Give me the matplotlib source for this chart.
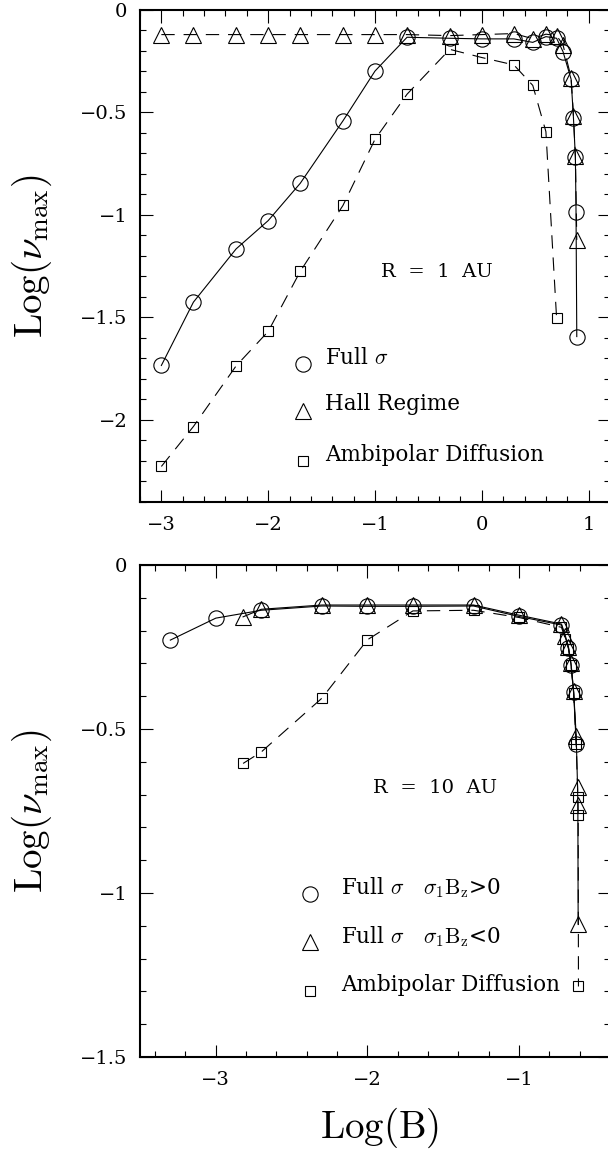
import matplotlib
matplotlib.use("Agg")
import matplotlib.pyplot as plt
from matplotlib.ticker import MultipleLocator, FuncFormatter

plt.rcParams['mathtext.fontset'] = 'cm'
plt.rcParams['font.family'] = ['DejaVu Serif']
plt.rcParams['axes.unicode_minus'] = True

# ---------------- data: R = 1 AU ----------------
logB_full_1 = [-3, -2.7, -2.3, -2, -1.7, -1.3, -1, -0.7, -0.3, 0, 0.3, 0.477, 0.6, 0.7,
               0.76, 0.836, 0.858, 0.876, 0.882, 0.889]
nu_full_1 = [-1.735, -1.426, -1.166, -1.028, -0.846, -0.541, -0.298, -0.133, -0.138, -0.141,
             -0.141, -0.158, -0.13, -0.138, -0.203, -0.338, -0.528, -0.719, -0.987, -1.594]

logB_hall_1 = [-3, -2.7, -2.3, -2, -1.7, -1.3, -1, -0.7, -0.3, 0, 0.3, 0.477, 0.6, 0.7,
               0.76, 0.836, 0.858, 0.876, 0.889]
nu_hall_1 = [-0.12, -0.12, -0.12, -0.12, -0.12, -0.12, -0.12, -0.12, -0.125, -0.12, -0.115,
             -0.14, -0.118, -0.125, -0.17, -0.33, -0.515, -0.715, -1.122]

logB_amb_1 = [-3, -2.7, -2.3, -2, -1.7, -1.3, -1, -0.7, -0.3, 0, 0.3, 0.477, 0.6, 0.7]
nu_amb_1 = [-2.228, -2.033, -1.737, -1.569, -1.276, -0.954, -0.631, -0.411, -0.192, -0.232,
            -0.268, -0.368, -0.594, -1.504]

# ---------------- data: R = 10 AU ----------------
logB_pos_10 = [-3.3, -3.0, -2.7, -2.3, -2.0, -1.7, -1.3, -1.0, -0.72, -0.674, -0.657, -0.64, -0.623]
nu_pos_10 = [-0.229, -0.162, -0.138, -0.125, -0.126, -0.126, -0.125, -0.157, -0.183, -0.252,
             -0.305, -0.386, -0.545]

logB_neg_10 = [-2.82, -2.7, -2.3, -2.0, -1.7, -1.3, -1.0, -0.72, -0.695, -0.674, -0.657, -0.64,
               -0.623, -0.614, -0.612, -0.61]
nu_neg_10 = [-0.158, -0.135, -0.122, -0.122, -0.122, -0.122, -0.153, -0.18, -0.215, -0.25,
             -0.3, -0.385, -0.52, -0.676, -0.732, -1.095]

logB_amb_10 = [-2.82, -2.7, -2.3, -2.0, -1.7, -1.3, -1.0, -0.72, -0.695, -0.674, -0.657, -0.64,
               -0.623, -0.612, -0.61, -0.608]
nu_amb_10 = [-0.605, -0.57, -0.406, -0.228, -0.14, -0.138, -0.16, -0.19, -0.225, -0.255,
             -0.305, -0.39, -0.545, -0.706, -0.762, -1.285]

legend_top = [r'Full $\sigma$', 'Hall Regime', 'Ambipolar Diffusion']
legend_bot = [r'Full $\sigma$   $\sigma_{\rm 1}{\rm B}_{\rm z}$>0',
              r'Full $\sigma$   $\sigma_{\rm 1}{\rm B}_{\rm z}$<0',
              'Ambipolar Diffusion']

W, H = 608, 1150
fig = plt.figure(figsize=(W / 100, H / 100), dpi=100)
ax1 = fig.add_axes([140 / W, 1 - 501.7 / H, 470 / W, 491.7 / H])
ax2 = fig.add_axes([140 / W, 1 - 1057 / H, 470 / W, 492 / H])

lw = 0.8
circ = dict(marker='o', ms=11, mfc='none', mec='black', mew=0.8)
tri = dict(marker='^', ms=11, mfc='none', mec='black', mew=0.8)
sq = dict(marker='s', ms=7, mfc='none', mec='black', mew=0.8)
dash = (12, 8)

# top panel
ax1.plot(logB_hall_1, nu_hall_1, color='black', lw=lw, ls=(0, dash), **tri)
ax1.plot(logB_amb_1, nu_amb_1, color='black', lw=lw, ls=(0, dash), **sq)
ax1.plot(logB_full_1, nu_full_1, color='black', lw=lw, ls='-', **circ)

# bottom panel
ax2.plot(logB_amb_10, nu_amb_10, color='black', lw=lw, ls=(0, dash), **sq)
ax2.plot(logB_neg_10, nu_neg_10, color='black', lw=lw, ls='-', **tri)
ax2.plot(logB_pos_10, nu_pos_10, color='black', lw=lw, ls='-', **circ)

def fmt(v, pos):
    s = '%g' % v
    return s.replace('-', '\u2212')

for ax in (ax1, ax2):
    ax.tick_params(which='both', direction='in', top=True, right=True, labelsize=14, width=0.8)
    ax.tick_params(which='major', length=9)
    ax.tick_params(which='minor', length=4.5)
    ax.tick_params(axis='y', pad=9)
    ax.tick_params(axis='x', pad=10)
    ax.xaxis.set_major_locator(MultipleLocator(1))
    ax.xaxis.set_minor_locator(MultipleLocator(0.2))
    ax.yaxis.set_major_locator(MultipleLocator(0.5))
    ax.yaxis.set_minor_locator(MultipleLocator(0.1))
    ax.xaxis.set_major_formatter(FuncFormatter(fmt))
    ax.yaxis.set_major_formatter(FuncFormatter(fmt))
    for sp in ax.spines.values():
        sp.set_linewidth(1.5)
    ax.text(-0.23, 0.5, r'$\mathrm{Log}(\nu_{\mathrm{max}})$', transform=ax.transAxes,
            rotation=90, ha='center', va='center', fontsize=28)

ax1.set_xlim(-3.2, 1.2)
ax1.set_ylim(-2.4, 0)
ax2.set_xlim(-3.5, -0.4)
ax2.set_ylim(-1.5, 0)

ax2.set_xlabel(r'$\mathrm{Log(B)}$', fontsize=28)
ax2.xaxis.set_label_coords(0.509, -0.1)

# annotations top
ax1.text(-0.94, -1.278, 'R  =  1  AU', fontsize=14, ha='left', va='center')
leg_y1 = [-1.70, -1.925, -2.17]
mk1 = [circ, tri, sq]
for yv, lab, m in zip(leg_y1, legend_top, mk1):
    ax1.plot([-1.674], [yv - 0.03], ls='none', **m)
    ax1.text(-1.468, yv, lab, fontsize=15.5, ha='left', va='center')

# annotations bottom
ax2.text(-1.963, -0.681, 'R  =  10  AU', fontsize=14, ha='left', va='center')
leg_y2 = [-0.985, -1.133, -1.282]
for yv, lab, m in zip(leg_y2, legend_bot, mk1):
    ax2.plot([-2.382], [yv - 0.017], ls='none', **m)
    ax2.text(-2.174, yv, lab, fontsize=15.5, ha='left', va='center')

fig.savefig('out.png', dpi=100)
